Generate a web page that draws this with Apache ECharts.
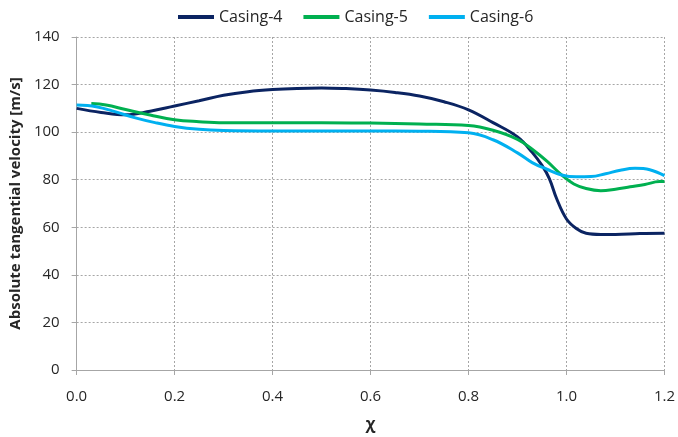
<!DOCTYPE html>
<html>
<head>
<meta charset="utf-8">
<script src="https://cdn.jsdelivr.net/npm/echarts@6/dist/echarts.min.js"></script>
<style>
  html, body { margin: 0; padding: 0; background: #fff; }
  #chart { width: 678px; height: 437px; }
</style>
</head>
<body>
<div id="chart"></div>
<script>
// Absolute tangential velocity profiles along χ for three casings
const seriesNames = ['Casing-4', 'Casing-5', 'Casing-6'];

const casing4X = [0, 0.05, 0.1, 0.15, 0.2, 0.25, 0.3, 0.35, 0.4, 0.45, 0.5, 0.55, 0.6, 0.65, 0.7, 0.75, 0.8, 0.85, 0.9, 0.93, 0.95, 0.965, 0.98, 1.0, 1.02, 1.04, 1.07, 1.1, 1.15, 1.2];
const casing4Y = [110, 108.3, 107.3, 108.8, 111, 113.2, 115.5, 117, 117.9, 118.4, 118.6, 118.3, 117.7, 116.7, 115.2, 112.8, 109.4, 104, 98, 91.5, 86, 80.5, 72, 63.5, 59.5, 57.5, 57, 57, 57.4, 57.5];

const casing5X = [0.03, 0.06, 0.1, 0.15, 0.2, 0.25, 0.3, 0.4, 0.5, 0.6, 0.7, 0.8, 0.85, 0.9, 0.93, 0.96, 0.99, 1.015, 1.04, 1.07, 1.1, 1.13, 1.16, 1.19, 1.2];
const casing5Y = [112, 111.4, 109.5, 107.2, 105.2, 104.4, 104, 104, 104, 103.8, 103.4, 102.8, 100.8, 97, 92.8, 87.8, 82, 78.2, 76.3, 75.4, 76, 77, 78, 79.2, 79.2];

const casing6X = [0, 0.04, 0.08, 0.12, 0.16, 0.2, 0.25, 0.3, 0.4, 0.5, 0.6, 0.7, 0.8, 0.85, 0.9, 0.93, 0.96, 0.99, 1.02, 1.05, 1.08, 1.11, 1.14, 1.17, 1.2];
const casing6Y = [111.4, 110.7, 108.5, 106, 104, 102.4, 101.2, 100.7, 100.5, 100.5, 100.5, 100.4, 99.7, 96.8, 91.3, 87.2, 84.4, 82, 81.2, 81.3, 82.5, 84, 84.8, 84.2, 81.7];

const seriesColors = ['#0b2462', '#00b050', '#00b0f0'];

function pairs(xs, ys) {
  return xs.map((x, i) => [x, ys[i]]);
}

const fontFamily = '"Open Sans", "Liberation Sans", sans-serif';
const chart = echarts.init(document.getElementById('chart'), null, { renderer: 'canvas' });

const gridLine = { show: true, lineStyle: { color: '#a6a6a6', type: [2, 2], width: 1 } };

chart.setOption({
  animation: false,
  backgroundColor: '#ffffff',
  color: seriesColors,
  legend: {
    top: 4,
    left: 173,
    icon: 'rect',
    itemWidth: 36,
    itemHeight: 4,
    itemGap: 21,
    textStyle: { fontFamily: fontFamily, fontSize: 16, color: '#262626' },
    data: seriesNames
  },
  grid: { left: 74, right: 11, top: 37, bottom: 63, containLabel: false },
  xAxis: {
    type: 'value',
    min: 0,
    max: 1.2,
    interval: 0.2,
    name: 'χ',
    nameLocation: 'middle',
    nameGap: 46,
    nameTextStyle: { fontFamily: fontFamily, fontSize: 16, fontWeight: 'bold', color: '#262626' },
    axisLine: { show: true, lineStyle: { color: '#a6a6a6', width: 1 } },
    axisTick: { show: true, length: 5, lineStyle: { color: '#a6a6a6' } },
    axisLabel: {
      fontFamily: fontFamily, fontSize: 15, color: '#262626', margin: 19,
      formatter: v => v.toFixed(1)
    },
    splitLine: gridLine
  },
  yAxis: {
    type: 'value',
    min: 0,
    max: 140,
    interval: 20,
    name: 'Absolute tangential velocity [m/s]',
    nameLocation: 'middle',
    nameGap: 51,
    nameTextStyle: { fontFamily: fontFamily, fontSize: 15, fontWeight: 'bold', color: '#262626' },
    axisLine: { show: true, lineStyle: { color: '#a6a6a6', width: 1 } },
    axisTick: { show: true, length: 5, lineStyle: { color: '#a6a6a6' } },
    axisLabel: { fontFamily: fontFamily, fontSize: 15, color: '#262626', margin: 17 },
    splitLine: gridLine
  },
  series: [
    { name: seriesNames[0], type: 'line', data: pairs(casing4X, casing4Y), smooth: 0.4, showSymbol: false, lineStyle: { width: 3 } },
    { name: seriesNames[1], type: 'line', data: pairs(casing5X, casing5Y), smooth: 0.4, showSymbol: false, lineStyle: { width: 3 } },
    { name: seriesNames[2], type: 'line', data: pairs(casing6X, casing6Y), smooth: 0.4, showSymbol: false, lineStyle: { width: 3 } }
  ]
});
</script>
</body>
</html>
